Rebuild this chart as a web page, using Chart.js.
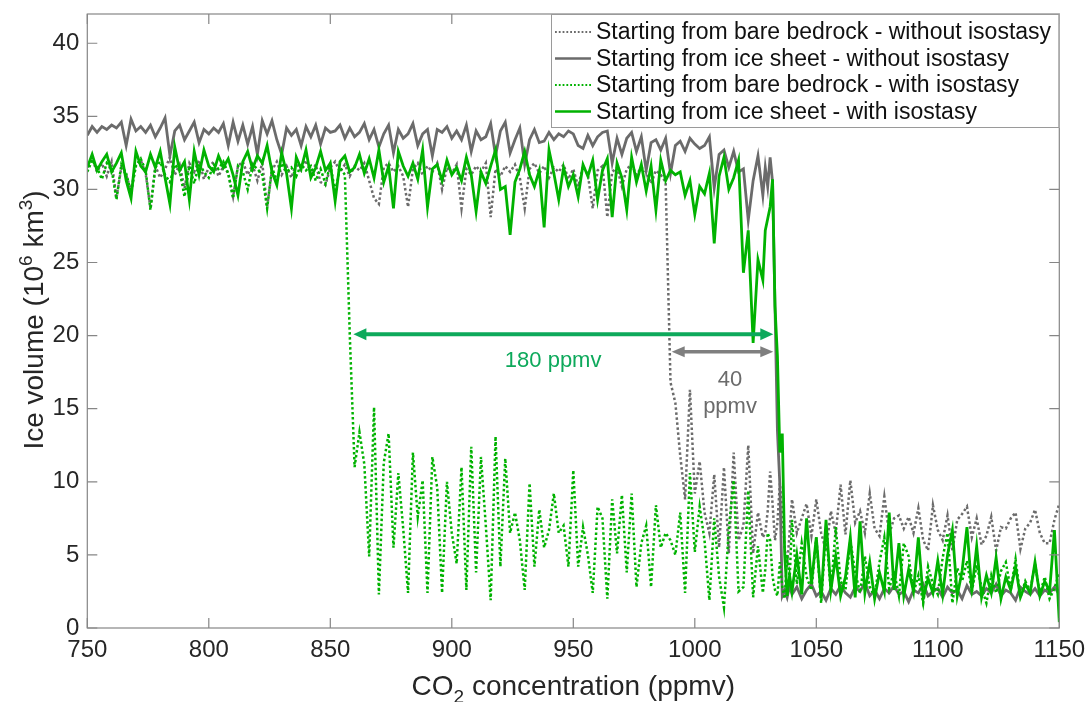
<!DOCTYPE html>
<html>
<head>
<meta charset="utf-8">
<script src="https://cdn.jsdelivr.net/npm/chart.js@4.4.1/dist/chart.umd.min.js"></script>
<style>
  html, body { margin: 0; padding: 0; background: #fff; }
  #wrap { width: 1090px; height: 702px; }
</style>
</head>
<body>
<div id="wrap"><canvas id="chart" width="1090" height="702"></canvas></div>
<script>
// CO2 sampling (ppmv), finer around the collapse of the ice sheet
const co2 = [
  750, 752, 754, 756, 758, 760, 762, 764, 766, 768,
  770, 772, 774, 776, 778, 780, 782, 784, 786, 788,
  790, 792, 794, 796, 798, 800, 802, 804, 806, 808,
  810, 812, 814, 816, 818, 820, 822, 824, 826, 828,
  830, 832, 834, 836, 838, 840, 842, 844, 846, 848,
  850, 852, 854, 856, 858, 860, 862, 864, 866, 868,
  870, 872, 874, 876, 878, 880, 882, 884, 886, 888,
  890, 892, 894, 896, 898, 900, 902, 904, 906, 908,
  910, 912, 914, 916, 918, 920, 922, 924, 926, 928,
  930, 932, 934, 936, 938, 940, 942, 944, 946, 948,
  950, 952, 954, 956, 958, 960, 962, 964, 966, 968,
  970, 972, 974, 976, 978, 980, 982, 984, 986, 988,
  990, 992, 994, 996, 998, 1000, 1002, 1004, 1006, 1008,
  1010, 1012, 1014, 1016, 1018, 1020, 1022, 1024, 1026, 1028,
  1029, 1030, 1031, 1032, 1033, 1034, 1035, 1036, 1037, 1038, 1039, 1040,
  1042, 1044, 1046, 1048, 1050, 1052, 1054, 1056, 1058, 1060,
  1062, 1064, 1066, 1068, 1070, 1072, 1074, 1076, 1078, 1080,
  1082, 1084, 1086, 1088, 1090, 1092, 1094, 1096, 1098, 1100,
  1102, 1104, 1106, 1108, 1110, 1112, 1114, 1116, 1118, 1120,
  1122, 1124, 1126, 1128, 1130, 1132, 1134, 1136, 1138, 1140,
  1142, 1144, 1146, 1148, 1150
];

// ice volume (10^6 km^3)
const bedrockNoIso = [
  31.6, 32.1, 31.2, 31.8, 30.9, 31.9, 29.4, 31.5, 31.0, 29.9,
  31.7, 32.0, 31.1, 28.7, 31.6, 30.8, 31.4, 32.2, 31.0, 31.7,
  30.1, 31.8, 31.2, 32.0, 30.7, 31.5, 31.9, 30.9, 31.6, 31.1,
  29.5, 31.6, 31.9, 31.0, 31.7, 30.6, 31.8, 28.8, 31.3, 31.9,
  31.0, 31.6, 30.8, 31.8, 31.3, 32.0, 31.1, 31.7, 30.5, 30.3,
  31.5, 31.9, 31.2, 31.7, 30.9, 31.6, 31.3, 31.8, 30.6, 29.4,
  29.0, 31.5, 31.8, 31.2, 31.6, 30.9, 28.8, 31.4, 31.8, 31.0,
  31.6, 31.2, 31.8, 30.0, 31.5, 31.1, 31.7, 28.7, 31.4, 31.0,
  31.6, 31.2, 31.8, 28.1, 31.4, 30.9, 31.6, 31.2, 31.7, 30.8,
  28.7, 31.4, 31.8, 31.1, 31.6, 30.8, 31.5, 31.2, 31.7, 30.7,
  31.4, 30.2, 31.6, 31.0, 28.7, 31.3, 31.6, 28.1, 31.2, 31.5,
  30.2, 31.4, 31.7, 31.0, 31.5, 31.2, 30.4, 31.3, 31.0, 30.5,
  16.8, 15.4, 11.8, 8.8, 16.3, 9.2, 11.4, 7.9, 6.5, 10.5,
  5.5, 11.0, 5.1, 12.0, 6.0, 7.0, 12.5, 5.1, 7.9, 6.2,
  6.5, 8.0, 10.7, 8.5, 6.0, 7.2, 9.9, 8.0, 5.5, 4.2, 6.5, 8.8,
  6.5, 7.5, 8.5, 6.3, 8.8, 6.5, 5.3, 8.0, 6.5, 9.8,
  6.4, 10.1, 7.2, 8.0, 6.5, 9.2, 6.8, 6.3, 9.0, 6.4,
  7.5, 7.7, 6.8, 7.6, 6.5, 8.2, 6.0, 5.3, 8.4, 6.7,
  6.0, 7.7, 5.3, 7.4, 7.8, 8.3, 6.2, 7.5, 5.7, 6.3,
  7.6, 5.3, 6.9, 6.8, 7.5, 7.9, 5.4, 6.8, 7.2, 8.1,
  6.5, 5.8, 5.8, 7.4, 8.5
];

const iceNoIso = [
  33.7, 34.3, 33.9, 34.3, 34.1, 34.4, 34.2, 34.6, 33.0, 34.8,
  34.0, 34.3, 33.9, 34.4, 33.6, 34.2, 34.9, 32.3, 34.0, 34.4,
  33.4, 34.0, 34.6, 33.2, 34.1, 33.8, 34.2, 33.9, 34.5, 33.0,
  34.6, 33.3, 34.4, 33.1, 34.3, 32.4, 34.7, 33.8, 34.7, 33.4,
  32.4, 34.2, 33.7, 34.1, 33.0, 34.3, 33.6, 34.4, 33.1, 34.2,
  33.9, 34.0, 34.4, 33.5, 34.2, 33.6, 33.9, 34.5, 33.4, 34.1,
  32.9, 33.8, 34.4, 32.5, 34.1, 33.5, 33.8, 34.5, 33.0, 33.8,
  34.1, 32.3, 34.1, 33.9, 34.3, 33.5, 34.0, 33.4, 34.4, 32.6,
  34.0, 33.4, 33.6, 34.5, 32.3, 34.0, 34.6, 32.5, 33.4, 34.2,
  31.7, 33.4, 34.1, 33.2, 33.3, 33.9, 33.4, 33.8, 33.6, 34.0,
  33.8, 33.0, 32.8, 33.7, 33.0, 33.6, 33.9, 34.0, 31.8, 33.5,
  32.4, 33.5, 33.9, 32.6, 33.6, 31.3, 33.2, 33.4, 32.7, 33.5,
  31.1, 33.0, 33.3, 32.6, 33.5, 33.1, 32.8, 33.0, 33.6, 30.1,
  32.4, 32.7, 31.5, 32.6, 31.2, 31.4, 27.9, 30.6, 32.3, 29.6,
  31.5, 30.2, 32.2, 30.5, 22.0, 13.5, 9.8, 2.2, 2.6, 2.1, 2.9, 2.3,
  2.8, 2.0, 2.6, 3.0, 2.2, 2.5, 1.9, 2.7, 2.3, 2.9,
  2.4, 2.1, 2.8, 2.5, 3.1, 2.2, 2.6, 2.0, 2.7, 2.4,
  2.9, 2.3, 2.5, 1.8, 2.6, 2.4, 3.0, 2.2, 2.5, 2.7,
  2.1, 2.8, 2.4, 2.6, 2.0, 2.9, 2.3, 2.5, 2.2, 2.7,
  2.4, 3.0, 2.2, 2.6, 2.4, 1.9, 2.8, 2.5, 2.3, 2.7,
  2.2, 2.6, 2.4, 2.8, 2.3
];

const bedrockIso = [
  31.2, 32.0, 31.5, 30.7, 31.8, 31.4, 29.3, 31.7, 31.1, 29.8,
  31.6, 32.1, 31.3, 28.6, 31.5, 31.9, 31.0, 30.5, 31.7, 31.3,
  29.5, 31.6, 30.4, 31.8, 31.2, 30.8, 31.7, 31.4, 31.9, 31.1,
  29.4, 31.6, 31.2, 30.0, 31.7, 31.4, 31.0, 28.7, 31.5, 30.6,
  31.8, 31.2, 31.5, 30.9, 31.7, 31.3, 31.6, 30.6, 31.4, 30.4,
  31.7, 29.8, 31.5, 31.0, 20.1, 11.0, 13.4, 11.2, 4.9, 15.1,
  2.3, 11.3, 13.3, 5.5, 10.6, 6.8, 2.4, 12.0, 7.6, 10.1,
  2.4, 11.7, 9.6, 2.4, 10.0, 6.5, 4.4, 11.0, 2.6, 12.4,
  3.8, 11.7, 7.0, 1.9, 13.1, 4.2, 11.6, 6.5, 7.9, 6.0,
  2.6, 9.9, 4.2, 8.1, 5.5, 6.7, 9.2, 6.5, 7.0, 4.2,
  10.8, 4.2, 6.9, 5.0, 2.4, 8.3, 7.5, 2.0, 8.8, 5.1,
  9.1, 3.8, 9.2, 2.8, 5.8, 7.0, 2.8, 8.4, 5.5, 6.5,
  6.0, 5.0, 7.9, 2.4, 10.6, 5.2, 8.3, 6.0, 1.9, 7.5,
  3.5, 1.4, 6.8, 10.1, 2.5, 2.8, 9.4, 2.1, 5.6, 2.4,
  4.0, 6.5, 6.0, 3.5, 2.6, 2.2, 4.5, 2.8, 2.0, 5.0, 3.2, 7.4,
  3.0, 5.8, 3.5, 2.6, 6.2, 1.7, 6.7, 2.4, 6.9, 3.2,
  2.6, 6.0, 3.8, 2.4, 4.9, 2.8, 2.2, 4.5, 6.2, 2.7,
  3.9, 2.2, 5.8, 4.9, 2.4, 3.6, 1.7, 4.2, 3.0, 2.3,
  4.8, 6.5, 1.7, 4.1, 3.2, 4.6, 2.5, 4.3, 2.8, 1.7,
  3.6, 2.4, 3.9, 4.5, 2.6, 4.7, 2.1, 3.2, 2.5, 4.4,
  2.3, 3.5, 2.0, 2.7, 3.8
];

const iceIso = [
  31.5, 32.4, 31.3, 31.9, 32.4, 31.2, 31.8, 32.5, 30.6, 29.4,
  32.6, 31.6, 31.2, 32.4, 31.5, 32.6, 30.8, 29.0, 32.9, 31.3,
  31.9, 29.3, 32.6, 31.0, 32.7, 31.6, 31.2, 32.3, 31.5, 32.1,
  31.0, 29.6, 31.9, 32.6, 31.4, 32.3, 31.8, 33.0, 31.2, 30.3,
  32.5, 31.1, 28.7, 32.2, 31.4, 32.7, 30.8, 31.5, 32.6, 31.3,
  31.8, 29.2, 31.9, 32.3, 31.2, 31.5, 32.4, 31.1, 32.1, 30.8,
  32.7, 30.5, 31.6, 28.7, 32.6, 31.6, 30.9, 31.8, 30.7, 32.7,
  28.8, 31.4, 31.7, 30.6, 32.0, 31.0, 31.5, 30.6, 32.2, 31.0,
  28.5, 31.2, 30.4, 31.6, 32.7, 30.0, 30.2, 26.9, 30.5, 31.4,
  32.6, 31.0, 30.2, 31.3, 27.4, 32.7, 31.1, 29.3, 31.5, 30.2,
  31.0, 29.5, 31.7, 30.9, 32.0, 29.3, 31.3, 32.1, 28.1, 31.8,
  30.8, 28.6, 32.2, 30.5, 31.7, 29.9, 31.6, 28.6, 32.0, 30.6,
  31.3, 31.0, 31.2, 29.6, 30.6, 28.3, 30.2, 29.7, 31.1, 26.3,
  30.9, 32.2, 30.0, 30.8, 32.0, 24.3, 27.2, 19.5, 25.2, 23.8,
  27.2, 28.0, 28.8, 30.7, 22.0, 18.6, 12.0, 13.3, 5.0, 2.2, 3.6, 2.5,
  5.0, 2.3, 7.5, 3.0, 6.2, 2.0, 7.4, 2.6, 4.9, 2.2,
  3.5, 6.2, 2.1, 7.3, 2.4, 4.5, 2.0, 3.8, 2.5, 7.9,
  2.6, 5.8, 2.2, 4.0, 2.5, 6.2, 2.0, 3.4, 2.4, 4.6,
  2.3, 5.0, 6.7, 2.2, 3.9, 6.9, 2.5, 5.6, 2.1, 3.6,
  2.4, 4.8, 2.0, 3.5, 2.6, 4.2, 2.1, 3.0, 2.4, 4.5,
  2.2, 3.2, 2.5, 6.7, 0.4
];

const seriesNames = [
  'Starting from bare bedrock - without isostasy',
  'Starting from ice sheet - without isostasy',
  'Starting from bare bedrock - with isostasy',
  'Starting from ice sheet - with isostasy'
];

const co2Ticks = [750, 800, 850, 900, 950, 1000, 1050, 1100, 1150];
const volumeTicks = [0, 5, 10, 15, 20, 25, 30, 35, 40];

// hysteresis widths: [from ppmv, to ppmv, ice volume]
const spanIso = [859.5, 1032.3, 20.1];
const spanNoIso = [990.5, 1032.3, 18.9];
// annotation text anchors: [ppmv, ice volume]
const labelIso = [941.7, 18.3];
const labelNoIso = [1014.5, 17.0];
const labelNoIso2 = [1014.5, 15.15];

[bedrockNoIso, iceNoIso, bedrockIso, iceIso].forEach((s, k) => {
  if (s.length !== co2.length) {
    throw new Error('series ' + k + ' has ' + s.length + ' values, expected ' + co2.length);
  }
});

const FONT = '"Liberation Sans", Arial, Helvetica, sans-serif';
const GRAY = '#6b6b6b';
const GREEN = '#00b200';
const ARROW_GREEN = '#0da95b';
const ARROW_GRAY = '#7f7f7f';
const AXIS = '#868686';
const TEXT = '#262626';

const pts = arr => co2.map((x, i) => ({ x, y: arr[i] }));

const axesBox = {
  id: 'axesBox',
  afterDatasetsDraw(chart) {
    const { ctx, chartArea: a, scales: { x, y } } = chart;
    ctx.save();
    ctx.strokeStyle = AXIS;
    ctx.lineWidth = 1.2;
    ctx.strokeRect(a.left, a.top, a.right - a.left, a.bottom - a.top);
    ctx.beginPath();
    x.ticks.forEach(t => {
      const px = x.getPixelForValue(t.value);
      ctx.moveTo(px, a.bottom); ctx.lineTo(px, a.bottom - 10);
      ctx.moveTo(px, a.top); ctx.lineTo(px, a.top + 10);
    });
    y.ticks.forEach(t => {
      const py = y.getPixelForValue(t.value);
      ctx.moveTo(a.left, py); ctx.lineTo(a.left + 10, py);
      ctx.moveTo(a.right, py); ctx.lineTo(a.right - 10, py);
    });
    ctx.stroke();
    ctx.restore();
  }
};

function arrow(ctx, x0, x1, y, color, lw, head, half) {
  ctx.strokeStyle = color;
  ctx.fillStyle = color;
  ctx.lineWidth = lw;
  ctx.beginPath();
  ctx.moveTo(x0 + head - 1, y);
  ctx.lineTo(x1 - head + 1, y);
  ctx.stroke();
  ctx.beginPath();
  ctx.moveTo(x0, y); ctx.lineTo(x0 + head, y - half); ctx.lineTo(x0 + head, y + half);
  ctx.closePath(); ctx.fill();
  ctx.beginPath();
  ctx.moveTo(x1, y); ctx.lineTo(x1 - head, y - half); ctx.lineTo(x1 - head, y + half);
  ctx.closePath(); ctx.fill();
}

const annotations = {
  id: 'annotations',
  afterDatasetsDraw(chart) {
    const { ctx, scales: { x, y } } = chart;
    ctx.save();
    arrow(ctx, x.getPixelForValue(spanIso[0]), x.getPixelForValue(spanIso[1]),
      y.getPixelForValue(spanIso[2]), ARROW_GREEN, 4, 13, 6);
    arrow(ctx, x.getPixelForValue(spanNoIso[0]), x.getPixelForValue(spanNoIso[1]),
      y.getPixelForValue(spanNoIso[2]), ARROW_GRAY, 3.5, 13, 5.5);
    ctx.font = '22px ' + FONT;
    ctx.textAlign = 'center';
    ctx.textBaseline = 'middle';
    ctx.fillStyle = ARROW_GREEN;
    ctx.fillText('180 ppmv', x.getPixelForValue(labelIso[0]), y.getPixelForValue(labelIso[1]));
    ctx.fillStyle = GRAY;
    ctx.fillText('40', x.getPixelForValue(labelNoIso[0]), y.getPixelForValue(labelNoIso[1]));
    ctx.fillText('ppmv', x.getPixelForValue(labelNoIso2[0]), y.getPixelForValue(labelNoIso2[1]));
    ctx.restore();
  }
};

const axisTitles = {
  id: 'axisTitles',
  afterDraw(chart) {
    const { ctx, chartArea: a } = chart;
    const big = '28px ' + FONT, small = '19px ' + FONT;
    ctx.save();
    ctx.fillStyle = TEXT;
    ctx.textAlign = 'left';
    ctx.textBaseline = 'alphabetic';

    // x title with subscript
    ctx.font = big;
    const w1 = ctx.measureText('CO').width;
    const w3 = ctx.measureText(' concentration (ppmv)').width;
    ctx.font = small;
    const w2 = ctx.measureText('2').width;
    let sx = (a.left + a.right) / 2 - (w1 + w2 + w3) / 2;
    ctx.font = big; ctx.fillText('CO', sx, 695);
    ctx.font = small; ctx.fillText('2', sx + w1, 703);
    ctx.font = big; ctx.fillText(' concentration (ppmv)', sx + w1 + w2, 695);

    // y title with superscripts, rotated
    const parts = [['Ice volume (10', big, 0], ['6', small, -11], [' km', big, 0], ['3', small, -11], [')', big, 0]];
    let total = 0;
    parts.forEach(p => { ctx.font = p[1]; p.push(ctx.measureText(p[0]).width); total += p[3]; });
    ctx.translate(43, 320);
    ctx.rotate(-Math.PI / 2);
    let px = -total / 2;
    parts.forEach(p => { ctx.font = p[1]; ctx.fillText(p[0], px, p[2]); px += p[3]; });
    ctx.restore();
  }
};

const boxLegend = {
  id: 'boxLegend',
  afterDraw(chart) {
    const { ctx, chartArea: a } = chart;
    const x0 = 551, y0 = a.top, x1 = a.right, y1 = 128;
    ctx.save();
    ctx.fillStyle = '#fff';
    ctx.fillRect(x0, y0, x1 - x0, y1 - y0);
    ctx.strokeStyle = '#9a9a9a';
    ctx.lineWidth = 1;
    ctx.strokeRect(x0 + 0.5, y0 + 0.5, x1 - x0 - 1, y1 - y0 - 1);
    ctx.font = '23px ' + FONT;
    ctx.textBaseline = 'middle';
    ctx.textAlign = 'left';
    chart.data.datasets.forEach((ds, i) => {
      const ry = 32 + i * 26.5;
      ctx.strokeStyle = ds.borderColor;
      if (ds.borderDash.length) {
        ctx.lineWidth = 1.8;
        ctx.setLineDash([1.8, 2]);
      } else {
        ctx.lineWidth = 2.5;
        ctx.setLineDash([]);
      }
      ctx.beginPath();
      ctx.moveTo(555, ry);
      ctx.lineTo(591, ry);
      ctx.stroke();
      ctx.setLineDash([]);
      ctx.fillStyle = '#111';
      ctx.fillText(ds.label, 596, ry + 1);
    });
    ctx.restore();
  }
};

const line = (label, arr, color, dotted, order) => ({
  label,
  data: pts(arr),
  borderColor: color,
  borderWidth: dotted ? 2.5 : 2.8,
  borderDash: dotted ? [2.5, 2.5] : [],
  borderCapStyle: 'butt',
  pointRadius: 0,
  tension: 0,
  fill: false,
  order
});

const noPad = s => { s.paddingLeft = 0; s.paddingRight = 0; s.paddingTop = 0; s.paddingBottom = 0; };

new Chart(document.getElementById('chart'), {
  type: 'line',
  data: {
    datasets: [
      line(seriesNames[0], bedrockNoIso, GRAY, true, 4),
      line(seriesNames[1], iceNoIso, GRAY, false, 3),
      line(seriesNames[2], bedrockIso, GREEN, true, 2),
      line(seriesNames[3], iceIso, GREEN, false, 1)
    ]
  },
  options: {
    responsive: false,
    animation: false,
    devicePixelRatio: 1,
    layout: { padding: { top: 14, right: 30.7, left: 0, bottom: 0 } },
    plugins: {
      legend: { display: false },
      tooltip: { enabled: false }
    },
    scales: {
      x: {
        type: 'linear',
        min: 750,
        max: 1150,
        afterBuildTicks: s => { s.ticks = co2Ticks.map(v => ({ value: v })); },
        afterFit: s => { s.height = 74; noPad(s); },
        ticks: {
          font: { family: FONT, size: 24 }, color: TEXT, padding: 8,
          maxRotation: 0, autoSkip: false, callback: v => String(v)
        },
        grid: { display: false, drawTicks: false },
        border: { display: false }
      },
      y: {
        min: 0,
        max: 42,
        afterBuildTicks: s => { s.ticks = volumeTicks.map(v => ({ value: v })); },
        afterFit: s => { s.width = 87.3; noPad(s); },
        ticks: { font: { family: FONT, size: 24 }, color: TEXT, padding: 8, callback: v => String(v) },
        grid: { display: false, drawTicks: false },
        border: { display: false }
      }
    }
  },
  plugins: [axesBox, annotations, axisTitles, boxLegend]
});
</script>
</body>
</html>
